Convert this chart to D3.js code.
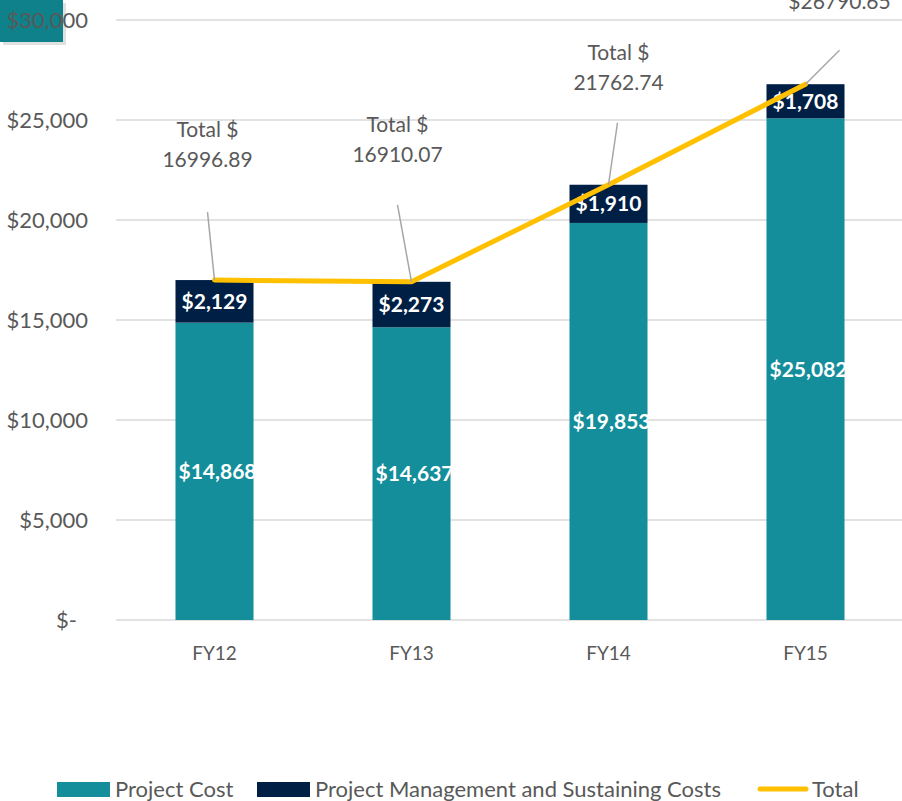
<!DOCTYPE html>
<html>
<head>
<meta charset="utf-8">
<script src="https://cdn.jsdelivr.net/npm/d3@7"></script>
<style>
  body { margin: 0; background: #fff; }
  svg { display: block; font-family: Lato, "Open Sans", sans-serif; }
</style>
</head>
<body>
<svg id="chart" width="902" height="801"></svg>
<script>
var categories = ['FY12', 'FY13', 'FY14', 'FY15'];
var projectCost = [14868, 14637, 19853, 25082];
var pmCost = [2129, 2273, 1910, 1708];
var totals = [16996.89, 16910.07, 21762.74, 26790.65];
var yTicks = [0, 5000, 10000, 15000, 20000, 25000, 30000];

// where the "Total $" callouts sit relative to their point (layout only)
var calloutOffsets = [
  { dx: -7, dy: -143, lx: -7, ly: -68 },
  { dx: -14, dy: -150, lx: -14, ly: -77 },
  { dx: 10, dy: -125, lx: 9, ly: -62 },
  { dx: 34, dy: -105, lx: 34, ly: -34 }
];

var teal = '#138e9a', navy = '#001f45', gold = '#ffc000', grey = '#595959';

var svg = d3.select('#chart');
var margin = { top: 20, right: 0, bottom: 181, left: 116 };
var width = 902 - margin.left - margin.right;
var height = 801 - margin.top - margin.bottom;

// odd teal block in the top-left corner
svg.append('rect').attr('x', 3).attr('y', 3).attr('width', 63).attr('height', 42)
  .attr('fill', '#000').attr('opacity', 0.12);
svg.append('rect').attr('x', 0).attr('y', 0).attr('width', 63).attr('height', 42)
  .attr('fill', '#0e818a');

var g = svg.append('g').attr('transform', 'translate(' + margin.left + ',' + margin.top + ')');

var x = d3.scaleBand().domain(categories).range([0, 788]).paddingInner(0.604).paddingOuter(0.302);
var y = d3.scaleLinear().domain([0, 30000]).range([height, 0]);

// gridlines
g.selectAll('.grid').data(yTicks).enter().append('line')
  .attr('x1', 0).attr('x2', width + 2)
  .attr('y1', function(d) { return y(d); }).attr('y2', function(d) { return y(d); })
  .attr('stroke', '#d9d9d9').attr('stroke-width', 1.3);

// y axis labels
var fmt = d3.format('$,');
g.selectAll('.ytick').data(yTicks).enter().append('text')
  .attr('x', function(d) { return d === 0 ? -39 : -28; })
  .attr('y', function(d) { return y(d); })
  .attr('dy', '0.35em')
  .attr('text-anchor', 'end')
  .style('font-size', '22px').style('fill', grey)
  .text(function(d) { return d === 0 ? '$-' : fmt(d); });

// x axis labels
g.selectAll('.xtick').data(categories).enter().append('text')
  .attr('x', function(d) { return x(d) + x.bandwidth() / 2; })
  .attr('y', height + 40)
  .attr('text-anchor', 'middle')
  .style('font-size', '19px').style('fill', grey)
  .text(function(d) { return d; });

// stacked bars
var rows = categories.map(function(c, i) {
  return { cat: c, pc: projectCost[i], pm: pmCost[i], total: totals[i] };
});

g.selectAll('.pc').data(rows).enter().append('rect')
  .attr('x', function(d) { return x(d.cat); })
  .attr('width', x.bandwidth())
  .attr('y', function(d) { return y(d.pc); })
  .attr('height', function(d) { return y(0) - y(d.pc); })
  .attr('fill', teal);

g.selectAll('.pm').data(rows).enter().append('rect')
  .attr('x', function(d) { return x(d.cat); })
  .attr('width', x.bandwidth())
  .attr('y', function(d) { return y(d.pc + d.pm); })
  .attr('height', function(d) { return y(d.pc) - y(d.pc + d.pm); })
  .attr('fill', navy);

// bar value labels
g.selectAll('.pcl').data(rows).enter().append('text')
  .attr('x', function(d) { return x(d.cat) + x.bandwidth() / 2 + 3; })
  .attr('y', function(d) { return y(d.pc / 2); })
  .attr('dy', '0.35em').attr('text-anchor', 'middle')
  .style('font-size', '21px').style('font-weight', 'bold').style('fill', '#fff')
  .text(function(d) { return fmt(d.pc); });

g.selectAll('.pml').data(rows).enter().append('text')
  .attr('x', function(d) { return x(d.cat) + x.bandwidth() / 2; })
  .attr('y', function(d) { return y(d.pc + d.pm / 2); })
  .attr('dy', '0.35em').attr('text-anchor', 'middle')
  .style('font-size', '21px').style('font-weight', 'bold').style('fill', '#fff')
  .text(function(d) { return fmt(d.pm); });

// total line
var line = d3.line()
  .x(function(d) { return x(d.cat) + x.bandwidth() / 2; })
  .y(function(d) { return y(d.total); });

g.append('path').datum(rows)
  .attr('d', line)
  .attr('fill', 'none').attr('stroke', gold).attr('stroke-width', 5)
  .attr('stroke-linecap', 'round').attr('stroke-linejoin', 'round');

// callouts with leader lines
rows.forEach(function(d, i) {
  var px = x(d.cat) + x.bandwidth() / 2, py = y(d.total);
  var o = calloutOffsets[i];
  g.append('line')
    .attr('x1', px).attr('y1', py)
    .attr('x2', px + o.lx).attr('y2', py + o.ly)
    .attr('stroke', '#a6a6a6').attr('stroke-width', 1.5);
  var t = g.append('text')
    .attr('text-anchor', 'middle')
    .style('font-size', '21px').style('fill', grey);
  var lines = i === 3 ? ['Total', '$' + d.total.toFixed(2)] : ['Total $', d.total.toFixed(2)];
  lines.forEach(function(s, k) {
    t.append('tspan').attr('x', px + o.dx).attr('y', py + o.dy + k * 30).text(s);
  });
});

// legend
var legend = svg.append('g').attr('transform', 'translate(0,789)');
legend.append('rect').attr('x', 57).attr('y', -7).attr('width', 53).attr('height', 15).attr('fill', teal);
legend.append('text').attr('x', 115).attr('y', 0).attr('dy', '0.35em')
  .style('font-size', '22px').style('fill', grey).text('Project Cost');
legend.append('rect').attr('x', 257).attr('y', -7).attr('width', 53).attr('height', 15).attr('fill', navy);
legend.append('text').attr('x', 315).attr('y', 0).attr('dy', '0.35em')
  .style('font-size', '22px').style('fill', grey).text('Project Management and Sustaining Costs');
legend.append('line').attr('x1', 760).attr('x2', 806).attr('y1', 0).attr('y2', 0)
  .attr('stroke', gold).attr('stroke-width', 5).attr('stroke-linecap', 'round');
legend.append('text').attr('x', 812).attr('y', 0).attr('dy', '0.35em')
  .style('font-size', '22px').style('fill', grey).text('Total');
</script>
</body>
</html>
